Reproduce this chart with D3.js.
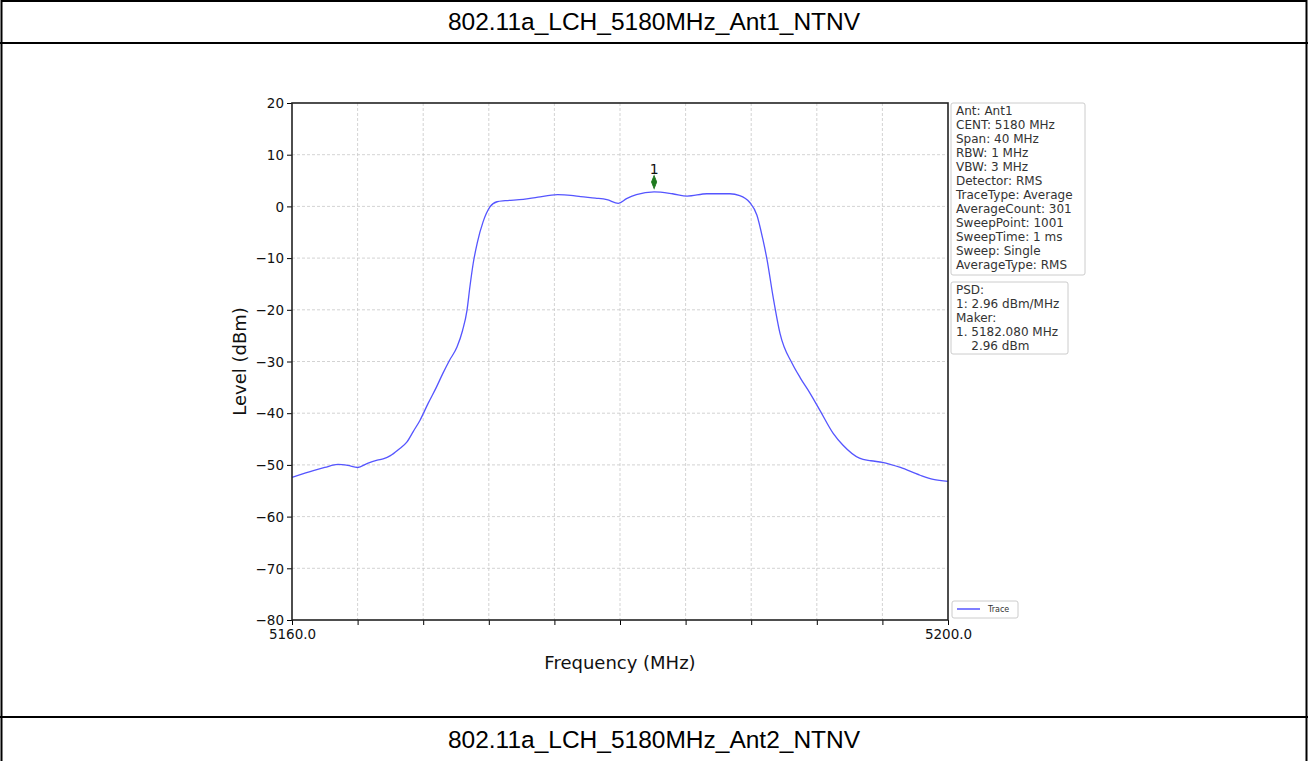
<!DOCTYPE html>
<html>
<head>
<meta charset="utf-8">
<script src="https://cdn.jsdelivr.net/npm/d3@7"></script>
<style>
  html, body { margin: 0; padding: 0; background: #fff; }
  svg { display: block; }
</style>
</head>
<body>
<svg id="chart" width="1308" height="761"></svg>
<script>
// ---- data ----
const titleTop = "802.11a_LCH_5180MHz_Ant1_NTNV";
const titleBottom = "802.11a_LCH_5180MHz_Ant2_NTNV";

const freqMHz = [5160.0, 5160.6, 5161.3, 5162.0, 5162.8, 5163.4, 5164.0, 5164.6, 5165.2, 5165.6,
  5166.0, 5166.5, 5167.0, 5167.4, 5167.8, 5168.3, 5168.8, 5169.2, 5169.6, 5170.06,
  5170.4, 5170.67, 5170.85, 5171.05, 5171.3, 5171.65, 5172.07, 5172.5, 5173.0, 5174.1,
  5175.0, 5176.2, 5177.0, 5177.6, 5178.5, 5179.2, 5179.9, 5180.4, 5181.0, 5182.08,
  5183.2, 5184.1, 5185.3, 5186.7, 5187.3, 5187.9, 5188.35, 5188.7, 5188.96, 5189.33,
  5189.76, 5190.5, 5191.0, 5191.6, 5192.2, 5193.0, 5193.6, 5194.6, 5195.3, 5196.0,
  5197.1, 5198.3, 5199.1, 5200.0];
const levelDbm = [-52.4, -51.8, -51.1, -50.5, -49.9, -50.1, -50.5, -49.7, -49.1, -48.8,
  -48.2, -47.0, -45.6, -43.5, -41.4, -38.1, -35.0, -32.3, -29.8, -27.2,
  -24.0, -20.1, -15.5, -11.0, -7.0, -3.0, -0.1, 0.9, 1.1, 1.35,
  1.8, 2.26, 2.15, 1.9, 1.6, 1.3, 0.6, 1.5, 2.26, 2.8,
  2.45, 2.0, 2.45, 2.45, 2.1, 0.8, -1.7, -6.2, -10.2, -17.4,
  -24.6, -30.4, -33.2, -36.2, -39.5, -43.9, -46.2, -48.7, -49.2, -49.5,
  -50.5, -52.0, -52.8, -53.2];

const xDomain = [5160, 5200];
const yDomain = [-80, 20];
const xTickValues = [5160, 5164, 5168, 5172, 5176, 5180, 5184, 5188, 5192, 5196, 5200];
const xTickLabels = ["5160.0", "", "", "", "", "", "", "", "", "", "5200.0"];
const yTickValues = [20, 10, 0, -10, -20, -30, -40, -50, -60, -70, -80];

const markerFreq = [5182.08];
const markerLevel = [2.96];
const markerLabel = ["1"];

const infoLines = ["Ant: Ant1", "CENT: 5180 MHz", "Span: 40 MHz", "RBW: 1 MHz", "VBW: 3 MHz",
  "Detector: RMS", "TraceType: Average", "AverageCount: 301", "SweepPoint: 1001",
  "SweepTime: 1 ms", "Sweep: Single", "AverageType: RMS"];
const psdLines = ["PSD:", "1: 2.96 dBm/MHz", "Maker:", "1. 5182.080 MHz", "    2.96 dBm"];
const legendLabel = "Trace";

// ---- drawing ----
const svg = d3.select("#chart");
const W = 1308, H = 761;
const traceColor = "#5555ff";
const mplFont = "'DejaVu Sans', sans-serif";

// outer table frame
svg.append("rect").attr("x", 0).attr("y", 0).attr("width", W).attr("height", H).attr("fill", "#fff");
const frame = svg.append("g").attr("stroke", "#000").attr("fill", "none");
frame.append("line").attr("x1", 1).attr("x2", W - 1).attr("y1", 1).attr("y2", 1).attr("stroke-width", 2);
frame.append("line").attr("x1", 1.5).attr("x2", 1.5).attr("y1", 0).attr("y2", H).attr("stroke-width", 2);
frame.append("line").attr("x1", W - 1.5).attr("x2", W - 1.5).attr("y1", 0).attr("y2", H).attr("stroke-width", 2);
frame.append("line").attr("x1", 0).attr("x2", W).attr("y1", 43).attr("y2", 43).attr("stroke-width", 2);
frame.append("line").attr("x1", 0).attr("x2", W).attr("y1", 717).attr("y2", 717).attr("stroke-width", 2);

svg.append("text").attr("x", W / 2).attr("y", 30).attr("text-anchor", "middle")
  .attr("font-family", "'Liberation Sans', Arial, sans-serif").attr("font-size", 24.5)
  .attr("fill", "#000").text(titleTop);
svg.append("text").attr("x", W / 2).attr("y", 748).attr("text-anchor", "middle")
  .attr("font-family", "'Liberation Sans', Arial, sans-serif").attr("font-size", 24.5)
  .attr("fill", "#000").text(titleBottom);

// plot area
const pLeft = 292, pRight = 948, pTop = 103, pBottom = 620;
const x = d3.scaleLinear().domain(xDomain).range([pLeft, pRight]);
const y = d3.scaleLinear().domain(yDomain).range([pBottom, pTop]);

// grid
const grid = svg.append("g").attr("stroke", "#c8c8c8").attr("stroke-width", 0.8)
  .attr("stroke-dasharray", "3,2");
grid.selectAll("line.v").data(xTickValues.slice(1, -1)).enter().append("line")
  .attr("x1", d => x(d)).attr("x2", d => x(d)).attr("y1", pTop).attr("y2", pBottom);
grid.selectAll("line.h").data(yTickValues.slice(1, -1)).enter().append("line")
  .attr("x1", pLeft).attr("x2", pRight).attr("y1", d => y(d)).attr("y2", d => y(d));

// axes
const fmtMinus = d => String(d).replace("-", "\u2212");
const xAxis = d3.axisBottom(x).tickValues(xTickValues)
  .tickFormat((d, i) => xTickLabels[i]).tickSizeInner(5).tickSizeOuter(0).tickPadding(4);
const yAxis = d3.axisLeft(y).tickValues(yTickValues)
  .tickFormat(fmtMinus).tickSizeInner(5).tickSizeOuter(0).tickPadding(3);

const gx = svg.append("g").attr("transform", `translate(0,${pBottom})`).call(xAxis);
const gy = svg.append("g").attr("transform", `translate(${pLeft},0)`).call(yAxis);
[gx, gy].forEach(g => {
  g.select(".domain").remove();
  g.selectAll(".tick line").attr("stroke", "#000").attr("stroke-width", 1);
  g.selectAll(".tick text").attr("font-family", mplFont).attr("font-size", 13.5).attr("fill", "#111");
});
gy.selectAll(".tick text").attr("dy", "0.35em");

// trace
const data = freqMHz.map((f, i) => ({ f, v: levelDbm[i] }));
const line = d3.line().x(d => x(d.f)).y(d => y(d.v)).curve(d3.curveMonotoneX);
svg.append("path").datum(data).attr("d", line).attr("fill", "none")
  .attr("stroke", traceColor).attr("stroke-width", 1.3);

// spines
svg.append("rect").attr("x", pLeft).attr("y", pTop).attr("width", pRight - pLeft).attr("height", pBottom - pTop)
  .attr("fill", "none").attr("stroke", "#222").attr("stroke-width", 1.6);

// marker
markerFreq.forEach((mf, i) => {
  const mx = x(mf), my = y(markerLevel[i]) - 9;
  svg.append("path")
    .attr("d", d3.symbol().type(d3.symbolDiamond).size(42)())
    .attr("transform", `translate(${mx},${my}) scale(0.75,1.1)`)
    .attr("fill", "#1f7a1f").attr("stroke", "#1f7a1f").attr("stroke-width", 1);
  svg.append("text").attr("x", mx).attr("y", my - 8).attr("text-anchor", "middle")
    .attr("font-family", mplFont).attr("font-size", 14).attr("fill", "#111").text(markerLabel[i]);
});

// axis labels
svg.append("text").attr("x", (pLeft + pRight) / 2).attr("y", 669).attr("text-anchor", "middle")
  .attr("font-family", mplFont).attr("font-size", 18).attr("fill", "#111").text("Frequency (MHz)");
svg.append("text").attr("transform", `translate(246,${(pTop + pBottom) / 2}) rotate(-90)`)
  .attr("text-anchor", "middle").attr("font-family", mplFont).attr("font-size", 18)
  .attr("fill", "#111").text("Level (dBm)");

// info boxes
function textBox(lines, bx, by, bw, bh) {
  svg.append("rect").attr("x", bx).attr("y", by).attr("width", bw).attr("height", bh)
    .attr("rx", 2).attr("fill", "#fff").attr("stroke", "#cccccc").attr("stroke-width", 1);
  svg.append("g").selectAll("text").data(lines).enter().append("text")
    .attr("x", bx + 5).attr("y", (d, i) => by + 12 + i * 14)
    .attr("font-family", mplFont).attr("font-size", 12).attr("fill", "#333")
    .attr("xml:space", "preserve").style("white-space", "pre").text(d => d);
}
textBox(infoLines, 951, 103, 134, 172);
textBox(psdLines, 951, 282, 117, 72);

// legend
svg.append("rect").attr("x", 952).attr("y", 601).attr("width", 66).attr("height", 17)
  .attr("rx", 2).attr("fill", "#fff").attr("stroke", "#cccccc").attr("stroke-width", 1);
svg.append("line").attr("x1", 957).attr("x2", 980).attr("y1", 609).attr("y2", 609)
  .attr("stroke", traceColor).attr("stroke-width", 1.5);
svg.append("text").attr("x", 988).attr("y", 612).attr("font-family", mplFont).attr("font-size", 8)
  .attr("fill", "#333").text(legendLabel);
</script>
</body>
</html>
